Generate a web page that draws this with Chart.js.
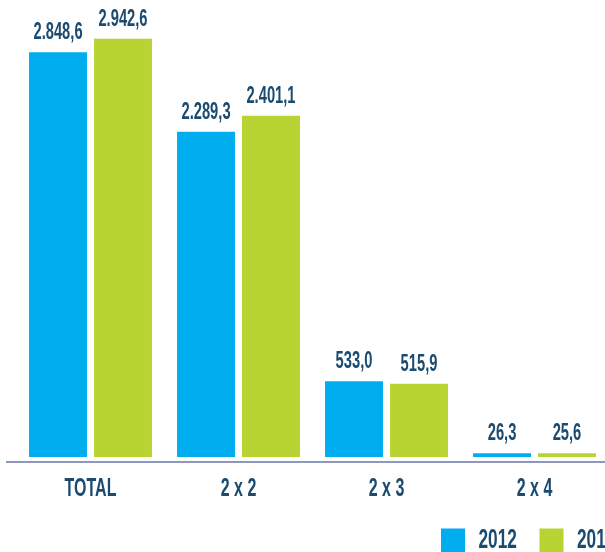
<!DOCTYPE html>
<html>
<head>
<meta charset="utf-8">
<script src="https://cdn.jsdelivr.net/npm/chart.js@4.4.1/dist/chart.umd.min.js"></script>
<style>
  html, body { margin: 0; padding: 0; background: #fff; overflow: hidden; }
  #wrap { width: 605px; height: 552px; overflow: hidden; }
</style>
</head>
<body>
<div id="wrap"><canvas id="chart" width="638" height="552"></canvas></div>
<script>
// data
const categories = ['TOTAL', '2 x 2', '2 x 3', '2 x 4'];
const seriesNames = ['2012', '2013'];
const values2012 = [2848.6, 2289.3, 533.0, 26.3];
const values2013 = [2942.6, 2401.1, 515.9, 25.6];

const BLUE = '#00AEEF';
const GREEN = '#B7D433';
const NAVY = '#1B4B70';
const AXIS = '#8E97C0';
const FONT = '"Liberation Sans", Arial, sans-serif';
const SQUEEZE = 0.64; // the original uses a condensed face

// squeeze all canvas text horizontally (measure too, so layout stays right)
const canvas = document.getElementById('chart');
const ctx = canvas.getContext('2d');
const fillText = ctx.fillText.bind(ctx);
const measureText = ctx.measureText.bind(ctx);
ctx.fillText = (text, x, y) => {
    ctx.save();
    ctx.translate(x, y);
    ctx.scale(SQUEEZE, 1);
    fillText(text, 0, 0);
    ctx.restore();
};
ctx.measureText = (text) => {
    const m = measureText(text);
    return {
        // whole pixels, so the end-aligned legend doesn't wrap on rounding
        width: Math.round(m.width * SQUEEZE),
        actualBoundingBoxAscent: m.actualBoundingBoxAscent,
        actualBoundingBoxDescent: m.actualBoundingBoxDescent
    };
};

// 2848.6 -> "2.848,6"
const fmt = (v) => {
    const [whole, dec] = v.toFixed(1).split('.');
    return whole.replace(/\B(?=(\d{3})+(?!\d))/g, '.') + ',' + dec;
};

// value labels above the bars
const valueLabels = {
    id: 'valueLabels',
    afterDatasetsDraw(chart) {
        const c = chart.ctx;
        c.save();
        c.font = 'bold 23px ' + FONT;
        c.fillStyle = NAVY;
        c.textAlign = 'center';
        c.textBaseline = 'alphabetic';
        chart.data.datasets.forEach((ds, i) => {
            chart.getDatasetMeta(i).data.forEach((bar, j) => {
                c.fillText(fmt(ds.data[j]), bar.x, bar.y - 13);
            });
        });
        c.restore();
    }
};

// baseline under the bars, a little below zero
const baseLine = {
    id: 'baseLine',
    afterDraw(chart) {
        const c = chart.ctx;
        const y = chart.chartArea.bottom + 5;
        c.save();
        c.strokeStyle = AXIS;
        c.lineWidth = 2;
        c.beginPath();
        c.moveTo(6, y);
        c.lineTo(chart.width, y);
        c.stroke();
        c.restore();
    }
};

Chart.defaults.font.family = FONT;

new Chart(canvas, {
    type: 'bar',
    data: {
        labels: categories,
        datasets: [
            { label: seriesNames[0], data: values2012, backgroundColor: BLUE },
            { label: seriesNames[1], data: values2013, backgroundColor: GREEN }
        ]
    },
    options: {
        responsive: false,
        animation: false,
        layout: { padding: { left: 16.5, right: 0, top: 0, bottom: -12 } },
        datasets: { bar: { categoryPercentage: 0.878, barPercentage: 0.892 } },
        scales: {
            x: {
                grid: { display: false, drawTicks: false },
                border: { display: false },
                ticks: { color: NAVY, padding: 17, font: { size: 25, weight: 'bold' } },
                afterFit: (scale) => { scale.height = 47; }
            },
            y: {
                position: 'right',
                min: 0,
                max: 3216,
                grid: { display: false },
                border: { display: false },
                ticks: { display: false },
                afterFit: (scale) => { scale.width = 29.5; }
            }
        },
        plugins: {
            legend: {
                position: 'bottom',
                align: 'end',
                labels: {
                    boxWidth: 24,
                    boxHeight: 24,
                    padding: 23,
                    color: NAVY,
                    font: { size: 27, weight: 'bold' }
                }
            },
            tooltip: { enabled: false }
        }
    },
    plugins: [valueLabels, baseLine]
});
</script>
</body>
</html>
